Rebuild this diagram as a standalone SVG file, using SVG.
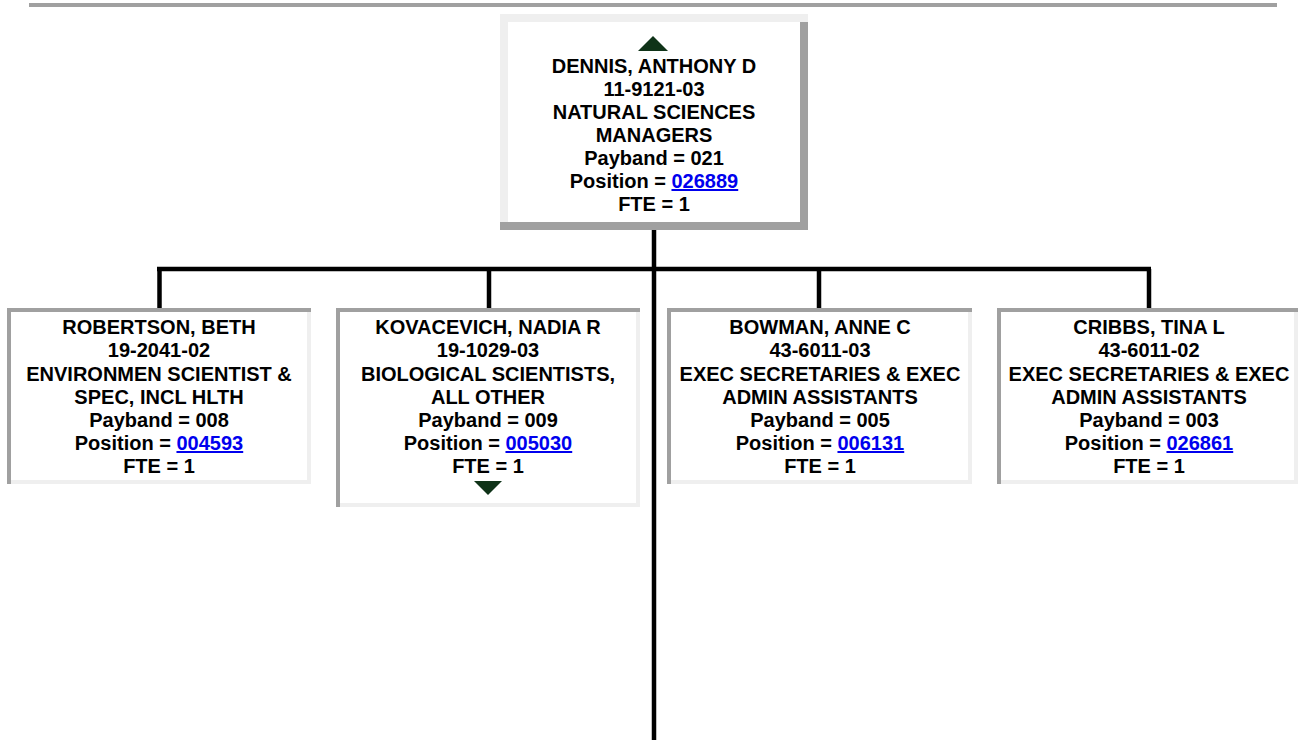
<svg xmlns="http://www.w3.org/2000/svg" width="1299" height="740" viewBox="0 0 1299 740">
<style>
.t{font-family:"Liberation Sans",Arial,sans-serif;font-weight:bold;font-size:20px;fill:#000;text-anchor:middle}
.l{fill:#0000ee;text-decoration:underline}
.dk{fill:#a0a0a0}
.lt{fill:#efefef}
.tri{fill:#0f3318}
.con{stroke:#000;stroke-width:4.5;fill:none}
</style>
<rect x="29" y="3" width="1248" height="4" class="dk"/>
<g id="connectors">
<line class="con" x1="654" y1="230" x2="654" y2="740"/>
<line class="con" x1="157" y1="269" x2="1151" y2="269"/>
<line class="con" x1="159.5" y1="269" x2="159.5" y2="308"/>
<line class="con" x1="489" y1="269" x2="489" y2="308"/>
<line class="con" x1="819" y1="269" x2="819" y2="308"/>
<line class="con" x1="1149" y1="269" x2="1149" y2="308"/>
</g>
<g id="node-dennis">
<rect x="500" y="14" width="308" height="216" fill="#fff"/>
<rect x="500" y="14" width="308" height="8" class="lt"/>
<rect x="500" y="14" width="8" height="208" class="lt"/>
<rect x="800" y="22" width="8" height="208" class="dk"/>
<rect x="500" y="222" width="308" height="8" class="dk"/>
<path class="tri" d="M653 36 L668 51 L638 51 Z"/>
<text class="t" x="654" y="73">DENNIS, ANTHONY D</text>
<text class="t" x="654" y="96">11-9121-03</text>
<text class="t" x="654" y="119">NATURAL SCIENCES</text>
<text class="t" x="654" y="142">MANAGERS</text>
<text class="t" x="654" y="165">Payband = 021</text>
<text class="t" x="654" y="188">Position = <tspan class="l">026889</tspan></text>
<text class="t" x="654" y="211">FTE = 1</text>
</g>
<g id="node-robertson">
<rect x="7" y="308" width="304" height="176" fill="#fff"/>
<rect x="7" y="308" width="304" height="4" class="dk"/>
<rect x="7" y="308" width="4" height="176" class="dk"/>
<rect x="307" y="312" width="4" height="172" class="lt"/>
<rect x="11" y="480" width="300" height="4" class="lt"/>
<text class="t" x="159" y="334">ROBERTSON, BETH</text>
<text class="t" x="159" y="357">19-2041-02</text>
<text class="t" x="159" y="380.5">ENVIRONMEN SCIENTIST &amp;</text>
<text class="t" x="159" y="403.5">SPEC, INCL HLTH</text>
<text class="t" x="159" y="427">Payband = 008</text>
<text class="t" x="159" y="450">Position = <tspan class="l">004593</tspan></text>
<text class="t" x="159" y="473">FTE = 1</text>
</g>
<g id="node-kovacevich">
<rect x="336" y="308" width="304" height="199" fill="#fff"/>
<rect x="336" y="308" width="304" height="4" class="dk"/>
<rect x="336" y="308" width="4" height="199" class="dk"/>
<rect x="636" y="312" width="4" height="195" class="lt"/>
<rect x="340" y="503" width="300" height="4" class="lt"/>
<text class="t" x="488" y="334">KOVACEVICH, NADIA R</text>
<text class="t" x="488" y="357">19-1029-03</text>
<text class="t" x="488" y="380.5">BIOLOGICAL SCIENTISTS,</text>
<text class="t" x="488" y="403.5">ALL OTHER</text>
<text class="t" x="488" y="427">Payband = 009</text>
<text class="t" x="488" y="450">Position = <tspan class="l">005030</tspan></text>
<text class="t" x="488" y="473">FTE = 1</text>
<path class="tri" d="M474 481 L502 481 L488 495 Z"/>
</g>
<g id="node-bowman">
<rect x="667" y="308" width="305" height="176" fill="#fff"/>
<rect x="667" y="308" width="305" height="4" class="dk"/>
<rect x="667" y="308" width="4" height="176" class="dk"/>
<rect x="968" y="312" width="4" height="172" class="lt"/>
<rect x="671" y="480" width="301" height="4" class="lt"/>
<text class="t" x="820" y="334">BOWMAN, ANNE C</text>
<text class="t" x="820" y="357">43-6011-03</text>
<text class="t" x="820" y="380.5">EXEC SECRETARIES &amp; EXEC</text>
<text class="t" x="820" y="403.5">ADMIN ASSISTANTS</text>
<text class="t" x="820" y="427">Payband = 005</text>
<text class="t" x="820" y="450">Position = <tspan class="l">006131</tspan></text>
<text class="t" x="820" y="473">FTE = 1</text>
</g>
<g id="node-cribbs">
<rect x="997" y="308" width="301" height="176" fill="#fff"/>
<rect x="997" y="308" width="301" height="4" class="dk"/>
<rect x="997" y="308" width="4" height="176" class="dk"/>
<rect x="1294" y="312" width="4" height="172" class="lt"/>
<rect x="1001" y="480" width="297" height="4" class="lt"/>
<text class="t" x="1149" y="334">CRIBBS, TINA L</text>
<text class="t" x="1149" y="357">43-6011-02</text>
<text class="t" x="1149" y="380.5">EXEC SECRETARIES &amp; EXEC</text>
<text class="t" x="1149" y="403.5">ADMIN ASSISTANTS</text>
<text class="t" x="1149" y="427">Payband = 003</text>
<text class="t" x="1149" y="450">Position = <tspan class="l">026861</tspan></text>
<text class="t" x="1149" y="473">FTE = 1</text>
</g>
</svg>
